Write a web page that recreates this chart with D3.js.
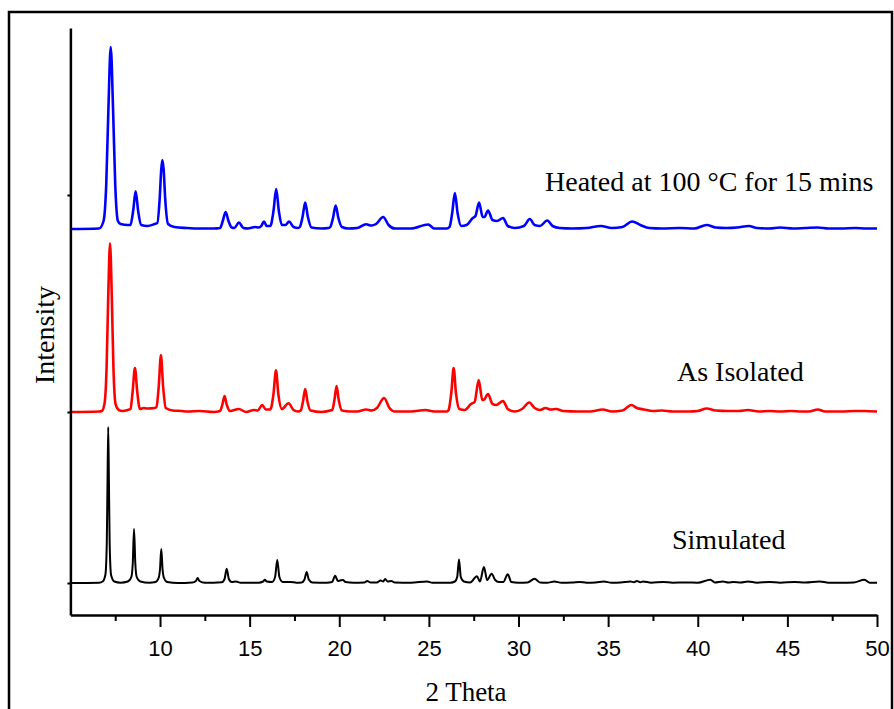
<!DOCTYPE html>
<html>
<head>
<meta charset="utf-8">
<script src="https://cdn.jsdelivr.net/npm/d3@7"></script>
<style>
  body { margin: 0; background: #fff; }
  svg { display: block; }
</style>
</head>
<body>
<svg width="894" height="709"></svg>
<script>
// 2 theta / intensity pairs (a.u.)
const simulated = [
  [5, 0], [6.6, 0.3], [6.8, 1.5], [6.95, 8], [7.03, 40], [7.07, 100], [7.11, 156], [7.15, 100], [7.19, 40], [7.27, 8], [7.45, 1.5], [7.8, 0.3],
  [8.2, 1.5], [8.4, 6], [8.48, 20], [8.55, 54], [8.62, 20], [8.7, 6], [8.9, 1.5], [9.4, 0.3],
  [9.75, 1], [9.92, 5], [10.0, 14], [10.07, 34], [10.14, 14], [10.22, 5], [10.4, 1],
  [11.0, 0], [11.8, 0.5], [12.0, 2], [12.1, 5], [12.2, 2], [12.5, 0.3],
  [13.45, 0.8], [13.6, 4], [13.72, 14.3], [13.84, 4], [14.0, 1], [14.24, 1.5], [14.5, 0.3],
  [15.5, 0.3], [15.75, 1.5], [15.85, 3.3], [15.95, 1.5],
  [16.25, 1], [16.42, 6], [16.54, 23], [16.66, 6], [16.85, 1], [17.3, 1], [17.6, 0.3],
  [17.9, 0.5], [18.06, 3.5], [18.18, 11], [18.3, 3.5], [18.5, 0.5],
  [19.3, 0.3], [19.6, 1], [19.77, 7.3], [19.92, 2], [20.05, 2.5], [20.2, 3], [20.35, 1], [20.8, 0.3],
  [21.4, 0.5], [21.56, 2], [21.75, 0.5], [22.1, 0.5], [22.3, 2.5], [22.45, 1.5], [22.56, 4], [22.7, 1.5], [22.9, 2], [23.1, 0.5],
  [24.0, 0.3], [24.9, 1.5], [25.2, 0.3], [26.2, 0.3],
  [26.45, 1.5], [26.58, 6], [26.68, 23.5], [26.78, 6], [26.95, 1.5],
  [27.3, 0.5], [27.68, 6.7], [27.85, 1.5], [28.07, 16], [28.25, 3], [28.5, 9.3], [28.7, 3], [28.9, 1], [29.15, 1], [29.4, 8.7], [29.6, 1],
  [30.0, 0.3], [30.5, 0.5], [30.9, 4.3], [31.2, 0.5], [31.6, 0.3], [32.0, 1.5], [32.4, 0.3], [33.0, 0.5], [33.4, 1], [33.8, 0.3],
  [34.3, 0.5], [34.76, 1.5], [35.2, 0.3], [35.7, 0.5], [36.25, 1.5], [36.45, 0.8], [36.6, 2], [36.8, 0.8], [36.95, 1.5], [37.4, 0.3],
  [38.07, 1], [38.6, 0.3], [39.3, 0.5], [40.0, 0.3], [40.7, 3.3], [40.95, 0.5], [41.4, 1.5], [41.7, 0.5], [42.0, 1], [42.4, 0.5],
  [42.8, 1.5], [43.3, 0.3], [44.0, 1], [44.6, 0.3], [45.4, 1], [46.0, 0.5], [46.8, 1.5], [47.3, 0.3], [48.0, 0.3], [48.7, 0.5],
  [49.3, 3.3], [49.6, 0.3], [50, 0.3]
]

const asIsolated = [
  [5, 0], [6.6, 0.5], [6.75, 1], [6.9, 8], [7.02, 45], [7.11, 115], [7.21, 168.7], [7.31, 115], [7.4, 45], [7.52, 8], [7.7, 2],
  [7.9, 1], [8.2, 2], [8.35, 3], [8.47, 20], [8.6, 44], [8.73, 20], [8.88, 3],
  [9.1, 4], [9.3, 3.5], [9.7, 4], [9.8, 5], [9.93, 26], [10.05, 57], [10.17, 26], [10.32, 4],
  [10.7, 1.5], [11.2, 1], [11.5, 0.5], [12.2, 1], [13.0, 0],
  [13.35, 1], [13.48, 7.5], [13.6, 16], [13.72, 7.5], [13.9, 1],
  [14.4, 3], [14.8, 0], [15.24, 2], [15.45, 1.5], [15.7, 7], [15.9, 2.5],
  [16.15, 2.5], [16.33, 18], [16.47, 41.7], [16.6, 18], [16.8, 3], [17.17, 8.7], [17.45, 2], [17.7, 0.5],
  [17.85, 1.5], [17.97, 10], [18.1, 23], [18.23, 10], [18.4, 1.5],
  [19.0, 0], [19.5, 1.5], [19.6, 2], [19.73, 12], [19.85, 26], [19.97, 12], [20.15, 1.5],
  [20.6, 0.5], [21.0, 0.5], [21.5, 2.5], [21.8, 1.5], [22.1, 4], [22.5, 14], [22.8, 4], [23.1, 0.5],
  [24.0, 0.5], [24.8, 2], [25.3, 0.5], [26.0, 0.5],
  [26.1, 2], [26.25, 19], [26.38, 44], [26.51, 19], [26.7, 3],
  [27.0, 2], [27.35, 8], [27.55, 10], [27.78, 32], [27.98, 12], [28.05, 12], [28.3, 18], [28.55, 8], [28.75, 7], [29.14, 11], [29.4, 3],
  [29.8, 0.5], [30.2, 3], [30.6, 9.5], [30.9, 4], [31.2, 2], [31.5, 4], [31.8, 2.5], [32.1, 3], [32.5, 1], [33.3, 0.5],
  [34.0, 0.5], [34.7, 2.5], [35.2, 0.5], [35.8, 1.5], [36.3, 7], [36.6, 4], [37.0, 2.5], [37.5, 1], [38.0, 1.5], [38.6, 0.5],
  [39.5, 0.5], [40.0, 1], [40.5, 3.5], [41.0, 1.5], [41.7, 1], [42.3, 1], [42.8, 2], [43.4, 0.5], [44.0, 1], [44.6, 0.5],
  [45.2, 1], [45.8, 0.5], [46.2, 0.5], [46.7, 2.5], [47.1, 0.5], [48.0, 0.5], [48.8, 1], [49.3, 1], [50, 0.5]
]

const heated = [
  [5, 0], [6.6, 0.5], [6.85, 8], [7.0, 45], [7.12, 120], [7.25, 182], [7.38, 120], [7.5, 45], [7.65, 8], [7.8, 5],
  [8.2, 4], [8.35, 4], [8.5, 18], [8.64, 37.6], [8.78, 18], [8.95, 4],
  [9.3, 3], [9.7, 5], [9.85, 6], [9.98, 30], [10.07, 60], [10.13, 69], [10.2, 60], [10.29, 30], [10.45, 5],
  [10.8, 2], [11.5, 1], [12.2, 0.5], [13.0, 0.5],
  [13.35, 1], [13.5, 8], [13.66, 17], [13.82, 8], [14.0, 1.5], [14.15, 1], [14.4, 6.5], [14.65, 1],
  [14.9, 0.5], [15.3, 2], [15.5, 1.5], [15.65, 3], [15.8, 7.5], [15.95, 3],
  [16.15, 3], [16.33, 18], [16.48, 40], [16.63, 18], [16.8, 4], [17.0, 4], [17.2, 7.5], [17.45, 2], [17.7, 1],
  [17.8, 2], [17.95, 12], [18.1, 26.5], [18.25, 12], [18.45, 1.5],
  [19.0, 0.5], [19.4, 1], [19.5, 2], [19.65, 11], [19.8, 23.5], [19.95, 11], [20.15, 2],
  [20.5, 0.5], [21.0, 1], [21.5, 4.7], [21.8, 3.5], [22.05, 5], [22.45, 12], [22.75, 4], [23.1, 0.5],
  [24.0, 0.5], [24.96, 4.5], [25.3, 0.5], [26.0, 0.5],
  [26.15, 2], [26.3, 16], [26.45, 36], [26.6, 16], [26.8, 3],
  [27.1, 4], [27.45, 11], [27.6, 13], [27.8, 26.5], [28.0, 12], [28.1, 12], [28.3, 18.5], [28.55, 9], [28.8, 8], [29.14, 11], [29.4, 3],
  [29.8, 1], [30.3, 3], [30.63, 10], [30.9, 4], [31.2, 3], [31.6, 8.5], [31.9, 3], [32.3, 1], [33.0, 0.5], [33.8, 1],
  [34.6, 3], [35.2, 1], [35.8, 2], [36.34, 7.5], [36.8, 4], [37.3, 1], [38.0, 0.5], [39.0, 1], [39.8, 0.5],
  [40.5, 4], [41.0, 1.5], [41.6, 1], [42.2, 1.5], [42.85, 3], [43.3, 1], [44.0, 0.5], [44.6, 1.5], [45.3, 0.5],
  [46.0, 1], [46.7, 1.5], [47.3, 0.5], [48.0, 0.5], [48.8, 1], [49.4, 0.5], [50, 0.5]
]

const seriesNames = ["Simulated", "As Isolated", "Heated at 100 °C for 15 mins"]
const seriesData = [simulated, asIsolated, heated]
const seriesOffsets = [0, 171, 354]
const seriesColors = ["#000000", "#ff0000", "#0000ff"]

const xMajorTicks = [10, 15, 20, 25, 30, 35, 40, 45, 50]
const xMinorTicks = [7.5, 12.5, 17.5, 22.5, 27.5, 32.5, 37.5, 42.5, 47.5]
const yTicks = [0, 171, 388]

const svg = d3.select("svg")

// outer frame
svg.append("rect")
    .attr("x", 9)
    .attr("y", 12)
    .attr("width", 883)
    .attr("height", 760)
    .attr("fill", "none")
    .attr("stroke", "#000")
    .attr("stroke-width", 2.5)

const x = d3.scaleLinear().domain([5, 50]).range([70.4, 877])
const y = d3.scaleLinear().domain([-32, 555]).range([615, 28])

const line = d3.line()
    .x(d => x(d[0]))
    .y(d => y(d[1]))
    .curve(d3.curveMonotoneX)

svg.append("g")
    .selectAll("path")
    .data(seriesData)
    .enter().append("path")
    .attr("d", (d, i) => line(d.map(p => [p[0], p[1] + seriesOffsets[i]])))
    .attr("fill", "none")
    .attr("stroke", (d, i) => seriesColors[i])
    .attr("stroke-width", (d, i) => i === 0 ? 2 : 2.6)
    .attr("stroke-linejoin", "round")

// axes
const xMajor = svg.append("g")
    .attr("transform", `translate(0,${y(-32)})`)
    .call(d3.axisBottom(x).tickValues(xMajorTicks).tickSize(12).tickSizeOuter(0).tickPadding(13).tickFormat(d3.format("d")))

const xMinor = svg.append("g")
    .attr("transform", `translate(0,${y(-32)})`)
    .call(d3.axisBottom(x).tickValues(xMinorTicks).tickSize(6).tickSizeOuter(0).tickFormat(""))
xMinor.select(".domain").remove()

const yAxis = svg.append("g")
    .attr("transform", `translate(${x(5)},0)`)
    .call(d3.axisLeft(y).tickValues(yTicks).tickSize(3).tickSizeOuter(0).tickFormat(""))

svg.selectAll(".domain").attr("stroke-width", 2.5)
svg.selectAll(".tick line").attr("stroke-width", 2)
xMajor.selectAll("text")
    .attr("font-family", "'Liberation Sans', Arial, sans-serif")
    .attr("font-size", 22)
    .attr("fill", "#000")

// series labels
const labelPos = [[672, 549], [677, 381], [545, 191]]
svg.append("g")
    .selectAll("text")
    .data(seriesNames)
    .enter().append("text")
    .attr("x", (d, i) => labelPos[i][0])
    .attr("y", (d, i) => labelPos[i][1])
    .attr("font-family", "'Liberation Serif', 'Times New Roman', serif")
    .attr("font-size", 28)
    .text(d => d)

svg.append("text")
    .attr("x", 466)
    .attr("y", 701)
    .attr("text-anchor", "middle")
    .attr("font-family", "'Liberation Serif', 'Times New Roman', serif")
    .attr("font-size", 27)
    .text("2 Theta")

svg.append("text")
    .attr("transform", "translate(54,335) rotate(-90)")
    .attr("text-anchor", "middle")
    .attr("font-family", "'Liberation Serif', 'Times New Roman', serif")
    .attr("font-size", 28)
    .text("Intensity")
</script>
</body>
</html>
